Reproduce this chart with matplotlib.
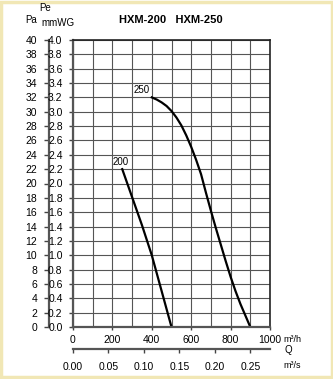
import matplotlib
matplotlib.use("Agg")
import matplotlib.pyplot as plt
from matplotlib.patches import Rectangle

plt.rcParams['font.family'] = ['Liberation Sans', 'DejaVu Sans']

# fan curves, airflow in m3/h vs static pressure in mmWG
q_200 = [250, 300, 350, 400, 450, 500]
p_200 = [2.2, 1.81, 1.42, 1.0, 0.5, 0.0]

q_250 = [400, 425, 450, 475, 500, 525, 550, 575, 600, 625, 650, 675, 700,
         725, 750, 775, 800, 825, 850, 875, 900]
p_250 = [3.2, 3.17, 3.13, 3.08, 3.01, 2.92, 2.81, 2.67, 2.51, 2.33, 2.13, 1.87, 1.62,
         1.38, 1.15, 0.92, 0.70, 0.5, 0.32, 0.16, 0.0]

mmwg_ticks = [i / 5 for i in range(21)]
pa_ticks = list(range(0, 41, 2))
q_h_ticks = [0, 200, 400, 600, 800, 1000]
q_s_ticks = [0.0, 0.05, 0.10, 0.15, 0.20, 0.25]

W, H = 333, 379
fig = plt.figure(figsize=(W / 100, H / 100), dpi=100)
fig.patch.set_facecolor('white')
fig.patches.append(Rectangle((0.004, 0.004), 0.992, 0.992, transform=fig.transFigure,
                             fill=False, edgecolor='#f1e7b5', lw=2.5))

ax = fig.add_axes([73 / W, 1 - 327 / H, 197 / W, 287 / H])
ax.set_xlim(0, 1000)
ax.set_ylim(0, 4.0)

ax.set_xticks(range(0, 1001, 100), minor=True)
ax.set_xticks(q_h_ticks)
ax.set_yticks(mmwg_ticks)
ax.set_yticklabels([f"{v:.1f}" for v in mmwg_ticks])
ax.grid(True, which='both', color='#555555', lw=0.8)
ax.tick_params(axis='x', which='minor', length=0)
ax.tick_params(axis='x', which='major', direction='out', length=2.5, width=1, pad=3,
               labelsize=7.5, color='#444444')
ax.tick_params(axis='y', direction='out', length=3, width=1, pad=4.5,
               labelsize=7.5, color='#444444')

for side in ['top', 'right']:
    ax.spines[side].set_color('#222222')
    ax.spines[side].set_linewidth(1.2)
for side in ['left', 'bottom']:
    ax.spines[side].set_color('#555555')
    ax.spines[side].set_linewidth(1.6)

ax.plot(q_200, p_200, color='black', lw=1.6, solid_joinstyle='round')
ax.plot(q_250, p_250, color='black', lw=1.6, solid_joinstyle='round')
ax.text(244, 2.30, '200', fontsize=7, ha='center', va='center')
ax.text(350, 3.30, '250', fontsize=7, ha='center', va='center')

# pressure in Pa on a second left axis
pa = ax.secondary_yaxis(-24 / 197, functions=(lambda y: y * 10, lambda p: p / 10))
pa.set_yticks(pa_ticks)
pa.spines['left'].set_color('#555555')
pa.spines['left'].set_linewidth(1.6)
pa.tick_params(direction='out', length=3.5, width=1, pad=5, labelsize=7.5, color='#444444')

# airflow in m3/s below the m3/h scale
qs = ax.secondary_xaxis(-22 / 287, functions=(lambda q: q / 3600, lambda s: s * 3600))
qs.set_xticks(q_s_ticks)
qs.set_xticklabels([f"{v:.2f}" for v in q_s_ticks])
qs.spines['bottom'].set_color('#555555')
qs.spines['bottom'].set_linewidth(1.6)
qs.tick_params(direction='out', length=3, width=1, pad=6, labelsize=7.5, color='#444444')

fig.text(283 / W, 1 - 339 / H, 'm³/h', fontsize=6.5, ha='left', va='center')
fig.text(288 / W, 1 - 350 / H, 'Q', fontsize=7, ha='center', va='center')
fig.text(283 / W, 1 - 365 / H, 'm³/s', fontsize=6.5, ha='left', va='center')

fig.text(45 / W, 1 - 8 / H, 'Pe', fontsize=7, ha='center', va='center')
fig.text(31 / W, 1 - 20 / H, 'Pa', fontsize=7, ha='center', va='center')
fig.text(58 / W, 1 - 23 / H, 'mmWG', fontsize=7, ha='center', va='center')

fig.text(171 / W, 1 - 20 / H, 'HXM-200   HXM-250', fontsize=8, fontweight='bold',
         ha='center', va='center')

fig.savefig('out.png', dpi=100)
